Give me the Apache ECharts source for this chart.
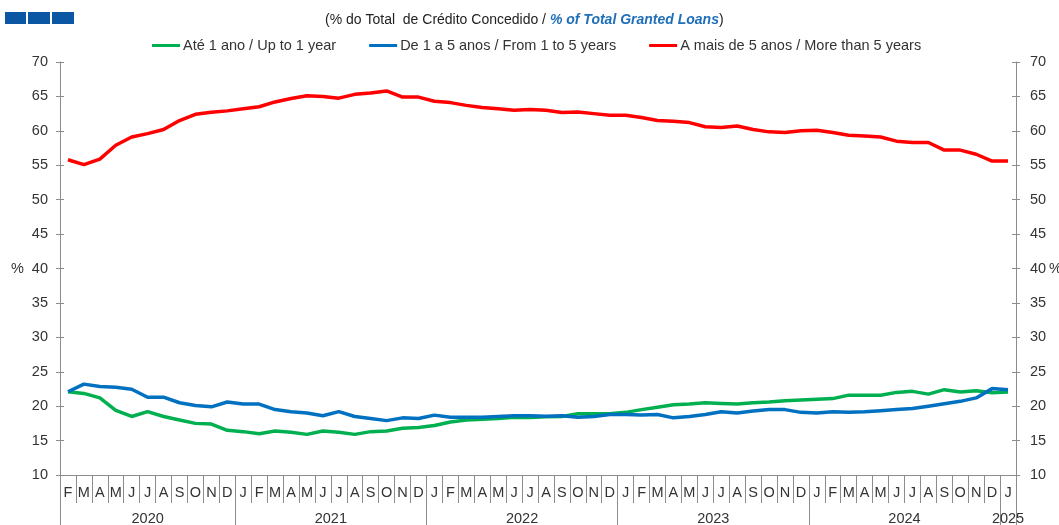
<!DOCTYPE html>
<html><head><meta charset="utf-8">
<script src="https://cdn.jsdelivr.net/npm/echarts@6/dist/echarts.min.js"></script>
<style>html,body{margin:0;padding:0;background:#fff}#c{width:1059px;height:525px}</style>
</head><body><div id="c"></div>
<script>
const categories = [
 '2020-02','2020-03','2020-04','2020-05','2020-06','2020-07','2020-08','2020-09','2020-10','2020-11','2020-12',
 '2021-01','2021-02','2021-03','2021-04','2021-05','2021-06','2021-07','2021-08','2021-09','2021-10','2021-11','2021-12',
 '2022-01','2022-02','2022-03','2022-04','2022-05','2022-06','2022-07','2022-08','2022-09','2022-10','2022-11','2022-12',
 '2023-01','2023-02','2023-03','2023-04','2023-05','2023-06','2023-07','2023-08','2023-09','2023-10','2023-11','2023-12',
 '2024-01','2024-02','2024-03','2024-04','2024-05','2024-06','2024-07','2024-08','2024-09','2024-10','2024-11','2024-12',
 '2025-01'];
const monthLetters = ['J','F','M','A','M','J','J','A','S','O','N','D'];
const upTo1Year = [22.1,21.85,21.2,19.4,18.5,19.2,18.5,18.0,17.5,17.4,16.5,
 16.3,16.0,16.4,16.2,15.9,16.4,16.2,15.9,16.3,16.4,16.8,16.9,
 17.2,17.7,18.0,18.1,18.2,18.4,18.35,18.45,18.5,18.9,18.9,18.9,
 19.1,19.5,19.85,20.2,20.3,20.5,20.4,20.3,20.5,20.6,20.8,20.9,
 21.0,21.1,21.6,21.6,21.6,22.0,22.15,21.75,22.4,22.05,22.25,21.95,
 22.05];
const oneTo5Years = [22.1,23.2,22.85,22.75,22.45,21.3,21.3,20.5,20.1,19.9,20.6,
 20.3,20.3,19.5,19.2,19.0,18.6,19.2,18.5,18.2,17.9,18.3,18.2,
 18.7,18.4,18.4,18.4,18.5,18.6,18.6,18.55,18.6,18.4,18.5,18.8,
 18.8,18.7,18.8,18.3,18.5,18.8,19.2,19.0,19.3,19.5,19.5,19.1,
 19.0,19.2,19.1,19.2,19.35,19.5,19.65,20.0,20.35,20.7,21.2,22.55,
 22.4];
const moreThan5Years = [55.8,55.1,55.9,57.9,59.1,59.6,60.2,61.5,62.4,62.7,62.9,
 63.2,63.5,64.2,64.7,65.1,65.0,64.75,65.3,65.5,65.8,64.9,64.9,
 64.3,64.1,63.7,63.4,63.2,63.0,63.1,63.0,62.65,62.75,62.5,62.25,
 62.25,61.95,61.5,61.4,61.2,60.6,60.5,60.7,60.2,59.85,59.75,60.0,
 60.1,59.75,59.35,59.25,59.1,58.5,58.3,58.3,57.2,57.2,56.6,55.6,
 55.6];
const seriesNames = ['Até 1 ano / Up to 1 year','De 1 a 5 anos / From 1 to 5 years','A mais de 5 anos / More than 5 years'];
const yMin = 10, yMax = 70, yInterval = 5;

// derived: month letters & year spans
const monthAxisLabels = categories.map(c => monthLetters[parseInt(c.slice(5),10)-1]);
const yearSpans = [];
categories.forEach((c,i) => {
  const y = c.slice(0,4);
  if (!yearSpans.length || yearSpans[yearSpans.length-1].year !== y) yearSpans.push({year:y,start:i,end:i+1});
  else yearSpans[yearSpans.length-1].end = i+1;
});
const yearBounds = yearSpans.map(s=>s.start).concat([categories.length]);
const yearCenters = yearSpans.map(s=>(s.start+s.end)/2);
const yearAt = {}; yearSpans.forEach(s=>{yearAt[(s.start+s.end)/2]=s.year;});

const FONT = 'Liberation Sans, Arial, sans-serif';
const TXT = '#333';
const AX = '#8c8c8c';
const FS = 14.5;
const chart = echarts.init(document.getElementById('c'), null, {renderer:'canvas'});
const yBase = {type:'value',min:yMin,max:yMax,interval:yInterval,splitLine:{show:false}};
chart.setOption({
  animation:false,
  textStyle:{fontFamily:FONT},
  graphic:[
    {type:'rect',shape:{x:5,y:12,width:21,height:12},style:{fill:'#0b57a4'}},
    {type:'rect',shape:{x:28,y:12,width:22,height:12},style:{fill:'#0b57a4'}},
    {type:'rect',shape:{x:52,y:12,width:22,height:12},style:{fill:'#0b57a4'}}
  ],
  title:{
    text:'{a|(% do Total  de Crédito Concedido / }{b|% of Total Granted Loans}{a|)}',
    left:325, top:13, padding:0,
    textStyle:{fontWeight:'normal',rich:{
      a:{fontFamily:FONT,fontSize:14,color:'#222',fontWeight:'normal'},
      b:{fontFamily:FONT,fontSize:14,color:'#1f6fb8',fontWeight:'bold',fontStyle:'italic'}
    }}
  },
  legend:{
    top:38, left:152, padding:0, itemWidth:28, itemHeight:3, itemGap:33, icon:'rect',
    textStyle:{fontFamily:FONT,fontSize:FS,color:TXT,padding:[0,0,0,-2]},
    data:seriesNames
  },
  grid:{left:60,right:43,top:62,bottom:50,containLabel:false,outerBoundsMode:'none'},
  xAxis:[
    {type:'category',data:monthAxisLabels,boundaryGap:true,position:'bottom',
     axisLine:{show:true,lineStyle:{color:AX,width:1}},
     axisTick:{show:true,interval:0,length:28,lineStyle:{color:AX}},
     axisLabel:{interval:0,margin:10,fontSize:FS,color:TXT,fontFamily:FONT},
     splitLine:{show:false}},
    {type:'value',min:0,max:categories.length,position:'bottom',
     axisLine:{show:false},
     axisTick:{show:true,customValues:yearBounds,length:50,lineStyle:{color:AX}},
     axisLabel:{show:true,customValues:yearCenters,margin:36,fontSize:FS,color:TXT,fontFamily:FONT,
       formatter:v=>yearAt[v]||''},
     splitLine:{show:false}}
  ],
  yAxis:[
    Object.assign({},yBase,{position:'left',name:'%',nameLocation:'middle',nameGap:36,nameRotate:0,nameMoveOverlap:false,
      nameTextStyle:{fontSize:FS,color:TXT,fontFamily:FONT},
      axisLine:{show:true,lineStyle:{color:AX}},axisTick:{show:true,length:4,lineStyle:{color:AX}},
      axisLabel:{margin:12,fontSize:FS,color:TXT,fontFamily:FONT}}),
    Object.assign({},yBase,{position:'right',name:'%',nameLocation:'middle',nameGap:33,nameRotate:0,nameMoveOverlap:false,
      nameTextStyle:{fontSize:FS,color:TXT,fontFamily:FONT},
      axisLine:{show:true,lineStyle:{color:AX}},axisTick:{show:true,length:4,lineStyle:{color:AX}},
      axisLabel:{margin:14,fontSize:FS,color:TXT,fontFamily:FONT}}),
    Object.assign({},yBase,{position:'left',axisLine:{show:false},axisTick:{show:true,inside:true,length:4,lineStyle:{color:AX}},axisLabel:{show:false}}),
    Object.assign({},yBase,{position:'right',axisLine:{show:false},axisTick:{show:true,inside:true,length:4,lineStyle:{color:AX}},axisLabel:{show:false}})
  ],
  series:[
    {name:seriesNames[0],type:'line',data:upTo1Year,xAxisIndex:0,yAxisIndex:0,symbol:'none',lineStyle:{color:'#00b050',width:3.5},itemStyle:{color:'#00b050'},z:3},
    {name:seriesNames[1],type:'line',data:oneTo5Years,xAxisIndex:0,yAxisIndex:0,symbol:'none',lineStyle:{color:'#0070c0',width:3.5},itemStyle:{color:'#0070c0'},z:4},
    {name:seriesNames[2],type:'line',data:moreThan5Years,xAxisIndex:0,yAxisIndex:0,symbol:'none',lineStyle:{color:'#ff0000',width:3.5},itemStyle:{color:'#ff0000'},z:5}
  ]
});
</script></body></html>
